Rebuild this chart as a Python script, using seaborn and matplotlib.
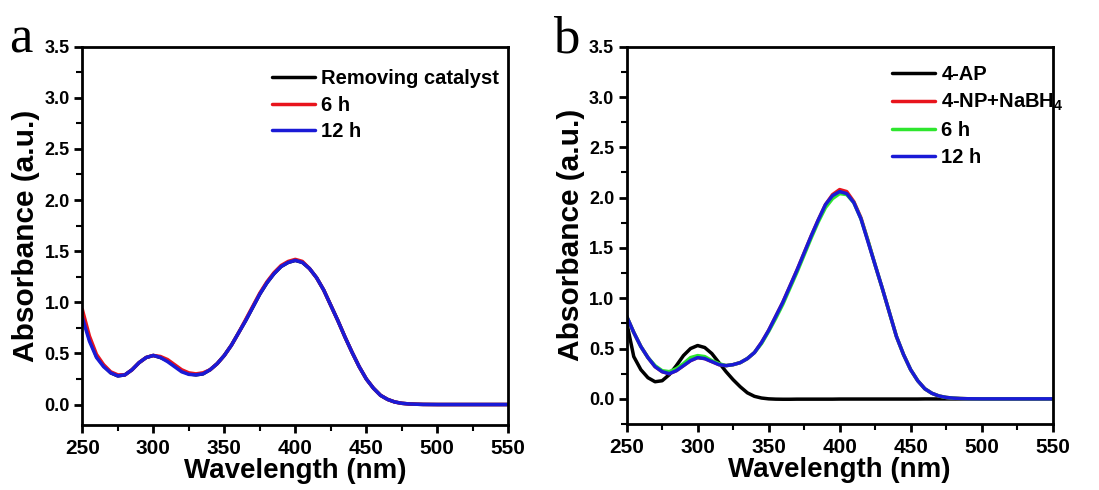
import matplotlib
matplotlib.use("Agg")
import matplotlib.pyplot as plt
from matplotlib.ticker import MultipleLocator
import seaborn as sns
import pandas as pd

wavelength = [250, 255, 260, 265, 270, 275, 280, 285, 290, 295, 300, 305, 310, 315, 320,
              325, 330, 335, 340, 345, 350, 355, 360, 365, 370, 375, 380, 385, 390, 395,
              400, 405, 410, 415, 420, 425, 430, 435, 440, 445, 450, 455, 460, 465, 470,
              475, 480, 485, 490, 500, 525, 550]

# Panel a
a_removing = [0.88, 0.64, 0.47, 0.38, 0.31, 0.28, 0.29, 0.34, 0.41, 0.46, 0.48, 0.46, 0.43, 0.38, 0.33,
              0.30, 0.29, 0.30, 0.34, 0.40, 0.48, 0.58, 0.70, 0.82, 0.95, 1.08, 1.19, 1.28, 1.35, 1.39,
              1.41, 1.39, 1.33, 1.24, 1.12, 0.97, 0.82, 0.66, 0.51, 0.37, 0.25, 0.16, 0.09, 0.05, 0.025,
              0.012, 0.006, 0.003, 0.001, 0.0, 0.0, 0.0]
a_6h = [0.93, 0.67, 0.49, 0.39, 0.32, 0.29, 0.29, 0.34, 0.41, 0.46, 0.48, 0.47, 0.44, 0.39, 0.34,
        0.31, 0.30, 0.31, 0.34, 0.40, 0.48, 0.58, 0.70, 0.83, 0.96, 1.09, 1.20, 1.29, 1.36, 1.40,
        1.42, 1.40, 1.33, 1.24, 1.12, 0.97, 0.82, 0.66, 0.51, 0.37, 0.25, 0.16, 0.09, 0.05, 0.025,
        0.012, 0.006, 0.003, 0.001, 0.0, 0.0, 0.0]
a_12h = [0.85, 0.62, 0.46, 0.37, 0.31, 0.28, 0.29, 0.34, 0.41, 0.46, 0.48, 0.46, 0.42, 0.37, 0.32,
         0.295, 0.29, 0.30, 0.34, 0.40, 0.48, 0.58, 0.70, 0.82, 0.95, 1.08, 1.19, 1.28, 1.35, 1.39,
         1.41, 1.39, 1.33, 1.24, 1.12, 0.97, 0.82, 0.66, 0.51, 0.37, 0.25, 0.16, 0.09, 0.05, 0.025,
         0.012, 0.006, 0.003, 0.001, 0.0, 0.0, 0.0]

# Panel b
b_4ap = [0.76, 0.42, 0.29, 0.21, 0.17, 0.18, 0.24, 0.33, 0.43, 0.50, 0.53, 0.51, 0.45, 0.36, 0.27,
         0.19, 0.12, 0.06, 0.025, 0.008, 0.0, -0.003, -0.004, -0.004, -0.003, -0.003, -0.003, -0.003, -0.003, -0.003,
         -0.002, -0.002, -0.002, -0.002, -0.002, -0.002, -0.002, -0.002, -0.002, -0.002, -0.002, -0.002, -0.001, -0.001, -0.001,
         -0.001, -0.001, -0.001, 0.0, 0.0, 0.0, 0.0]
b_np = [0.82, 0.66, 0.52, 0.41, 0.32, 0.27, 0.25, 0.28, 0.33, 0.38, 0.41, 0.40, 0.37, 0.34, 0.33,
        0.34, 0.36, 0.40, 0.46, 0.56, 0.68, 0.82, 0.96, 1.12, 1.28, 1.45, 1.62, 1.78, 1.93, 2.03,
        2.08, 2.06, 1.96, 1.80, 1.57, 1.33, 1.10, 0.86, 0.62, 0.44, 0.29, 0.18, 0.10, 0.055, 0.028,
        0.014, 0.007, 0.003, 0.001, 0.0, 0.0, 0.0]
b_6h = [0.82, 0.66, 0.52, 0.41, 0.33, 0.28, 0.27, 0.30, 0.35, 0.41, 0.43, 0.42, 0.38, 0.35, 0.33,
        0.34, 0.36, 0.40, 0.46, 0.55, 0.67, 0.80, 0.94, 1.10, 1.26, 1.43, 1.60, 1.76, 1.90, 1.99,
        2.04, 2.03, 1.95, 1.79, 1.57, 1.33, 1.10, 0.86, 0.62, 0.44, 0.29, 0.18, 0.10, 0.055, 0.028,
        0.014, 0.007, 0.003, 0.001, 0.0, 0.0, 0.0]
b_12h = [0.82, 0.66, 0.52, 0.41, 0.32, 0.27, 0.25, 0.28, 0.33, 0.38, 0.41, 0.40, 0.37, 0.34, 0.33,
         0.34, 0.36, 0.40, 0.46, 0.56, 0.68, 0.82, 0.96, 1.12, 1.28, 1.45, 1.62, 1.78, 1.93, 2.02,
         2.06, 2.04, 1.95, 1.79, 1.56, 1.33, 1.10, 0.86, 0.62, 0.44, 0.29, 0.18, 0.10, 0.055, 0.028,
         0.014, 0.007, 0.003, 0.001, 0.0, 0.0, 0.0]

labels_a = ["Removing catalyst", "6 h", "12 h"]
labels_b = ["4-AP", "4-NP+NaBH$_4$", "6 h", "12 h"]
colors_a = ["#000000", "#e8141c", "#1a1ad6"]
colors_b = ["#000000", "#e8141c", "#2ee62e", "#1a1ad6"]
xticks = [250, 300, 350, 400, 450, 500, 550]
yticks = [0.0, 0.5, 1.0, 1.5, 2.0, 2.5, 3.0, 3.5]

sns.set_theme(style="ticks")
plt.rcParams["font.family"] = ["Liberation Sans", "DejaVu Sans"]
plt.rcParams["mathtext.fontset"] = "custom"
plt.rcParams["mathtext.rm"] = "Liberation Sans:bold"
plt.rcParams["mathtext.it"] = "Liberation Sans:bold"
plt.rcParams["mathtext.bf"] = "Liberation Sans:bold"
for key in ["text.color", "axes.labelcolor", "xtick.color", "ytick.color", "axes.edgecolor"]:
    plt.rcParams[key] = "black"

fig = plt.figure(figsize=(10.99, 4.90), dpi=100)
axa = fig.add_axes([0.0749, 0.1327, 0.3876, 0.7720])
axb = fig.add_axes([0.5702, 0.1347, 0.3876, 0.7700])


def panel(ax, series, labels, colors, ylim, leg_anchor):
    rows = []
    for lab, vals in zip(labels, series):
        for w, v in zip(wavelength, vals):
            rows.append({"Wavelength": w, "Absorbance": v, "Sample": lab})
    df = pd.DataFrame(rows)
    sns.lineplot(data=df, x="Wavelength", y="Absorbance", hue="Sample",
                 hue_order=labels, palette=dict(zip(labels, colors)),
                 linewidth=2.5, ax=ax, legend=True, sort=False)
    ax.set_xlim(250, 550)
    ax.set_ylim(*ylim)
    ax.set_xticks(xticks)
    ax.set_yticks(yticks)
    ax.set_xticklabels([str(t) for t in xticks])
    ax.set_yticklabels([f"{t:.1f}" for t in yticks])
    ax.xaxis.set_minor_locator(MultipleLocator(25))
    ax.yaxis.set_minor_locator(MultipleLocator(0.25))
    ax.tick_params(which="major", direction="out", length=6, width=2, pad=3, colors="black")
    ax.tick_params(which="minor", direction="out", length=4, width=1.5, colors="black")
    ax.tick_params(axis="y", which="major", labelsize=13)
    ax.tick_params(axis="x", which="major", labelsize=15, pad=4)
    for lab in ax.get_xticklabels() + ax.get_yticklabels():
        lab.set_fontweight("bold")
    for sp in ax.spines.values():
        sp.set_visible(True)
        sp.set_linewidth(2)
        sp.set_color("black")
    ax.set_xlabel("Wavelength (nm)", fontsize=20, fontweight="bold", labelpad=0, color="black")
    ax.set_ylabel("Absorbance (a.u.)", fontsize=21.5, fontweight="bold", labelpad=3, color="black")
    handles, labs = ax.get_legend_handles_labels()
    leg = ax.legend(handles, labs, loc="upper left", bbox_to_anchor=leg_anchor,
                    frameon=False, prop={"weight": "bold", "size": 14.5},
                    handlelength=2.15, handletextpad=0.3, labelspacing=0.38,
                    borderaxespad=0, labelcolor="black")
    for line in leg.get_lines():
        line.set_linewidth(2.5)


panel(axa, [a_removing, a_6h, a_12h], labels_a, colors_a, (-0.2, 3.5), (0.426, 0.962))
panel(axb, [b_4ap, b_np, b_6h, b_12h], labels_b, colors_b, (-0.25, 3.5), (0.604, 0.972))

fig.text(0.008, 0.893, "a", fontsize=38, color="black", family=["Liberation Serif", "DejaVu Serif"])
fig.text(0.503, 0.893, "b", fontsize=38, color="black", family=["Liberation Serif", "DejaVu Serif"])

fig.savefig("out.png", dpi=100)
